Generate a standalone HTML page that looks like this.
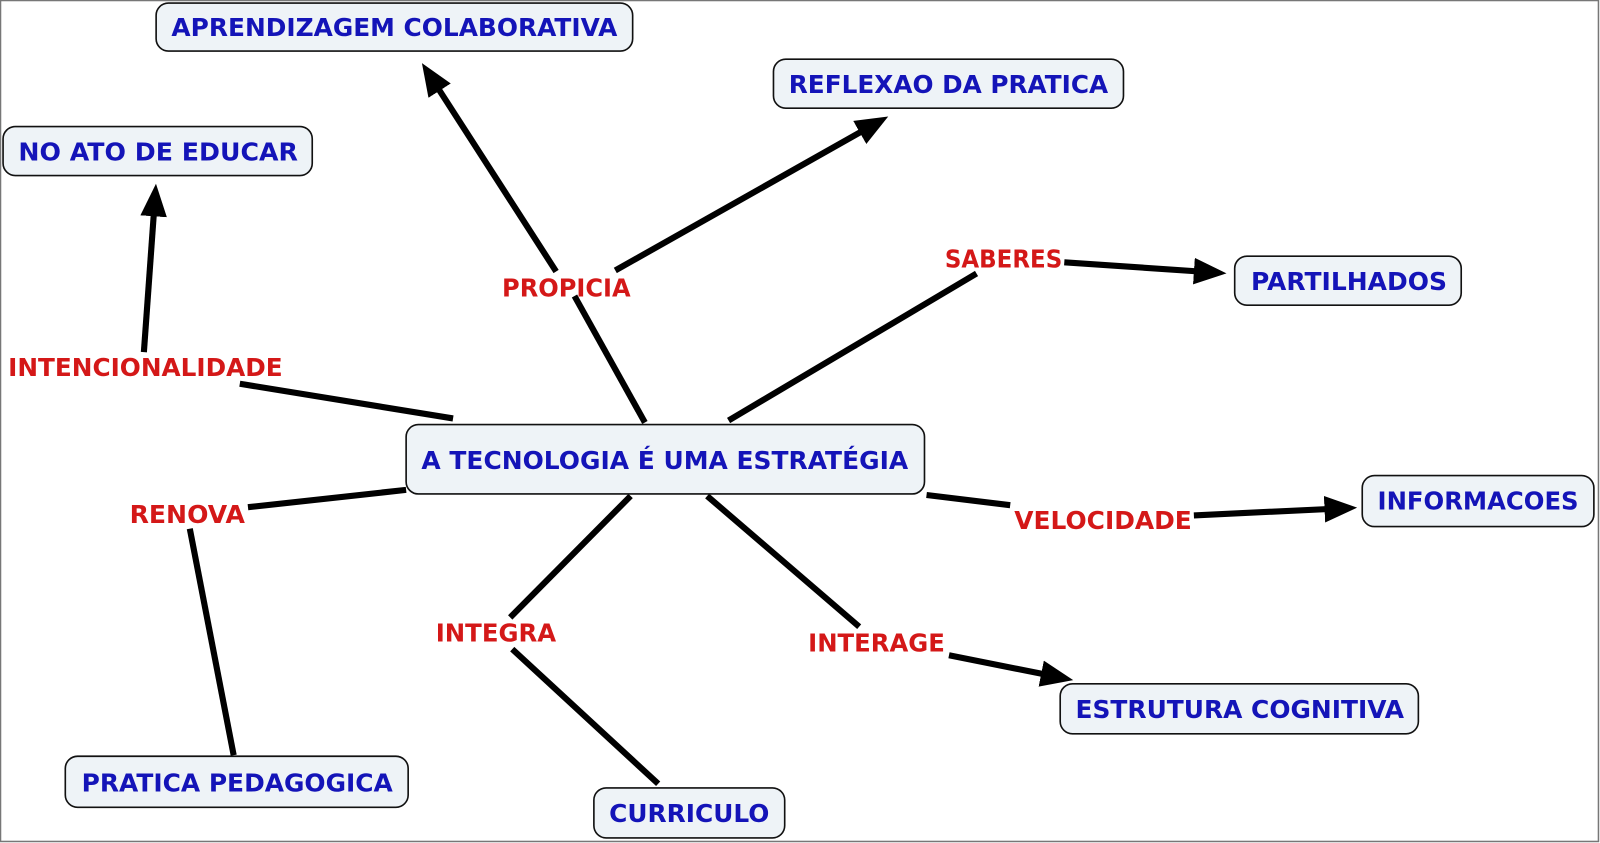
<!DOCTYPE html>
<html><head><meta charset="utf-8"><style>html,body{margin:0;padding:0;background:#fff}svg{display:block}</style></head>
<body>
<svg width="1600" height="843" viewBox="0 0 1568 826" preserveAspectRatio="none" xmlns="http://www.w3.org/2000/svg">
<defs>
<marker id="a" markerUnits="userSpaceOnUse" markerWidth="34" markerHeight="30" refX="20" refY="13" orient="auto">
<path d="M0,0 L32,13 L0,26 Z" fill="#000"/>
</marker>
</defs>
<rect x="0.5" y="0.5" width="1566" height="824" fill="#fff" stroke="#777" stroke-width="1.5"/>
<g stroke="#000" stroke-width="6" fill="none">
<line x1="632" y1="414" x2="563" y2="290"/>
<line x1="545" y1="266" x2="420" y2="72" marker-end="url(#a)"/>
<line x1="603" y1="265" x2="860" y2="120" marker-end="url(#a)"/>
<line x1="714" y1="412" x2="957" y2="268"/>
<line x1="1043" y1="257" x2="1190" y2="267" marker-end="url(#a)"/>
<line x1="444" y1="410" x2="235" y2="376"/>
<line x1="141" y1="345" x2="152" y2="192" marker-end="url(#a)"/>
<line x1="398" y1="480" x2="243" y2="497"/>
<line x1="186" y1="518" x2="229" y2="740"/>
<line x1="908" y1="485" x2="990" y2="495"/>
<line x1="1170" y1="505" x2="1318" y2="498" marker-end="url(#a)"/>
<line x1="618" y1="486" x2="500" y2="605"/>
<line x1="502" y1="636" x2="645" y2="768"/>
<line x1="693" y1="486" x2="842" y2="614"/>
<line x1="930" y1="642" x2="1040" y2="664" marker-end="url(#a)"/>
</g>
<g fill="#eef3f7" stroke="#111" stroke-width="1.6">
<rect x="153" y="3" width="467" height="47" rx="12"/>
<rect x="758" y="58" width="343" height="48" rx="12"/>
<rect x="3" y="124" width="303" height="48" rx="12"/>
<rect x="1210" y="251" width="222" height="48" rx="12"/>
<rect x="398" y="416" width="508" height="68" rx="12"/>
<rect x="1335" y="466" width="227" height="50" rx="12"/>
<rect x="1039" y="670" width="351" height="49" rx="12"/>
<rect x="64" y="741" width="336" height="50" rx="12"/>
<rect x="582" y="772" width="187" height="49" rx="12"/>
</g>
<g font-family="'DejaVu Sans','Liberation Sans',sans-serif" font-weight="bold" font-size="24" fill="#1414b8" dominant-baseline="central">
<text x="168" y="27" textLength="437" lengthAdjust="spacingAndGlyphs">APRENDIZAGEM COLABORATIVA</text>
<text x="773" y="83" textLength="313" lengthAdjust="spacingAndGlyphs">REFLEXAO DA PRATICA</text>
<text x="18" y="149" textLength="274" lengthAdjust="spacingAndGlyphs">NO ATO DE EDUCAR</text>
<text x="1226" y="276" textLength="192" lengthAdjust="spacingAndGlyphs">PARTILHADOS</text>
<text x="413" y="451" textLength="477" lengthAdjust="spacingAndGlyphs">A TECNOLOGIA É UMA ESTRATÉGIA</text>
<text x="1350" y="491" textLength="197" lengthAdjust="spacingAndGlyphs">INFORMACOES</text>
<text x="1054" y="695" textLength="322" lengthAdjust="spacingAndGlyphs">ESTRUTURA COGNITIVA</text>
<text x="80" y="767" textLength="305" lengthAdjust="spacingAndGlyphs">PRATICA PEDAGOGICA</text>
<text x="597" y="797" textLength="157" lengthAdjust="spacingAndGlyphs">CURRICULO</text>
</g>
<g font-family="'DejaVu Sans','Liberation Sans',sans-serif" font-weight="bold" font-size="24" fill="#d41818" dominant-baseline="central">
<text x="492" y="282" textLength="126" lengthAdjust="spacingAndGlyphs">PROPICIA</text>
<text x="926" y="254" textLength="115" lengthAdjust="spacingAndGlyphs">SABERES</text>
<text x="8" y="360" textLength="269" lengthAdjust="spacingAndGlyphs">INTENCIONALIDADE</text>
<text x="127" y="504" textLength="113" lengthAdjust="spacingAndGlyphs">RENOVA</text>
<text x="994" y="510" textLength="174" lengthAdjust="spacingAndGlyphs">VELOCIDADE</text>
<text x="427" y="620" textLength="118" lengthAdjust="spacingAndGlyphs">INTEGRA</text>
<text x="792" y="630" textLength="134" lengthAdjust="spacingAndGlyphs">INTERAGE</text>
</g>
</svg>
</body></html>
